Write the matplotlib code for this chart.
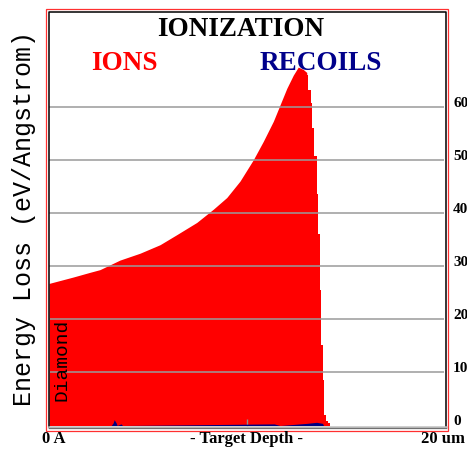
import numpy as np
import matplotlib
matplotlib.use("Agg")
import matplotlib.pyplot as plt
from matplotlib.patches import Rectangle

# ---- data ----
# rising part of the ion curve (smooth)
depth_um = [0.00, 1.22, 2.08, 2.58, 3.59, 4.61, 5.62, 6.47, 7.48, 8.32,
            9.00, 9.67, 10.34, 10.85, 11.36, 11.70, 12.04, 12.37, 12.62,
            12.86, 13.05]
ion_loss = [26.8, 28.0, 28.9, 29.4, 31.2, 32.5, 34.1, 36.0, 38.3, 40.8,
            43.0, 46.1, 50.1, 53.6, 57.4, 60.5, 63.6, 66.1, 67.6,
            67.2, 66.6]

# end-of-range histogram bins (left edge, height)
tail_depth = [13.05, 13.13, 13.25, 13.33, 13.43, 13.56, 13.64, 13.70,
              13.77, 13.85, 13.94, 14.03, 14.13, 14.23]
tail_loss = [66.1, 63.3, 60.8, 56.1, 50.8, 43.6, 36.1, 25.5,
             15.1, 8.5, 1.9, 0.9, 0.5, 0.0]

recoil_depth = [3.15, 3.25, 3.30, 3.40, 3.45, 3.65, 3.72, 11.40, 11.70,
                13.05, 13.55, 13.85, 13.90]
recoil_loss = [0.0, 0.5, 1.1, 0.5, 0.0, 0.3, 0.0, 0.3, 0.0,
               0.4, 0.6, 0.4, 0.0]

y_ticks = [0, 10, 20, 30, 40, 50, 60]
y_tick_labels = ["0", "10", "20", "30", "40", "50", "60"]

W, H = 467, 449
Y0, Y1 = 425.5, 12  # pixel rows of y=0 and top of plot
YMAX = 78

fig = plt.figure(figsize=(W / 100, H / 100), dpi=100)
fig.patch.set_facecolor("white")

ax = fig.add_axes([49 / W, (H - Y0) / H, (444 - 49) / W, (Y0 - Y1) / H])
ax.set_xlim(0, 20)
ax.set_ylim(0, YMAX)
for s in ax.spines.values():
    s.set_visible(False)
ax.set_yticks([])
ax.set_xticks([10])
ax.tick_params(axis="x", direction="in", length=5, color="#909090",
               labelbottom=False, width=1)

ax.fill_between(depth_um, ion_loss, 0, color="#FF0000", lw=0, zorder=1)
ax.fill_between(tail_depth, tail_loss, 0, step="post", color="#FF0000",
                lw=0, zorder=1)
ax.fill_between(recoil_depth, recoil_loss, 0, color="#000080", lw=0, zorder=2)
for v in y_ticks[1:]:
    ax.axhline(v, color="#9A9A9A", lw=1.1, zorder=3)

# overlay in pixel coords for frames and text
ov = fig.add_axes([0, 0, 1, 1], zorder=5)
ov.patch.set_alpha(0)
ov.set_xlim(0, W)
ov.set_ylim(H, 0)
ov.axis("off")

ov.add_patch(Rectangle((45.7, 9), 448.3 - 45.7, 430.7 - 9, fill=False,
                       edgecolor="#FF3030", lw=0.9))
ov.plot([48.5, 48.5, 445.5, 445.5], [427, 11.5, 11.5, 427], color="black", lw=1.1)
ov.plot([48.5, 445.5], [426.5, 426.5], color="#C0C0C0", lw=1.8)
ov.plot([48.5, 445.5], [428.3, 428.3], color="#707070", lw=0.9)

serif = "Liberation Serif"
ov.text(240.5, 29, "IONIZATION", family=serif, weight="bold", fontsize=19.5,
        ha="center", va="center", color="black")
ov.text(124, 63, "IONS", family=serif, weight="bold", fontsize=19.5,
        ha="center", va="center", color="#FF0000")
ov.text(321, 63, "RECOILS", family=serif, weight="bold", fontsize=19.5,
        ha="center", va="center", color="#00008B")

# right-hand value labels (clipped by the image edge, as in the original)
for v, lab in zip(y_ticks, y_tick_labels):
    ypix = Y0 - v * (Y0 - Y1) / YMAX
    ov.text(453, ypix - 0.5, lab, family=serif, weight="bold", fontsize=11,
            ha="left", va="baseline", color="black")

ov.text(42, 439, "0 A", family=serif, weight="bold", fontsize=12,
        ha="left", va="center")
ov.text(246.5, 439, "- Target Depth -", family=serif, weight="bold",
        fontsize=12, ha="center", va="center")
ov.text(421, 439, "20 um", family=serif, weight="bold", fontsize=12,
        ha="left", va="center")

ov.text(24, 218, "Energy Loss (eV/Angstrom)", family="Liberation Mono",
        fontsize=18, rotation=90, ha="center", va="center", color="black")
ov.text(62, 360, "Diamond", family="Liberation Mono", fontsize=14,
        rotation=90, ha="center", va="center", color="black")

fig.savefig("out.png", dpi=100)
